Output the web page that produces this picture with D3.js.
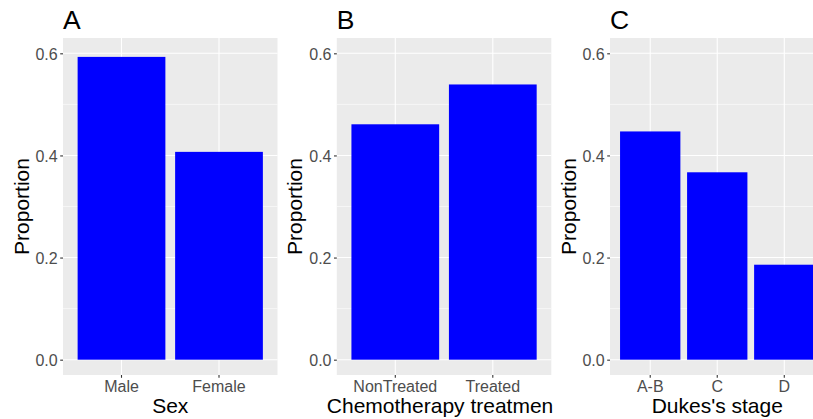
<!DOCTYPE html>
<html>
<head>
<meta charset="utf-8">
<script src="https://cdn.jsdelivr.net/npm/d3@7"></script>
<style>
  html, body { margin: 0; padding: 0; background: #ffffff; }
  svg { display: block; }
  text { font-family: "Liberation Sans", Arial, sans-serif; }
</style>
</head>
<body>
<svg id="chart" width="813" height="419"></svg>
<script>
// Proportions of patients by characteristic
const sexCategories = ["Male", "Female"];
const sexProportion = [0.593, 0.407];

const chemoCategories = ["NonTreated", "Treated"];
const chemoProportion = [0.461, 0.539];

const dukesCategories = ["A-B", "C", "D"];
const dukesProportion = [0.447, 0.367, 0.186];

const panelTags = ["A", "B", "C"];
const xTitles = ["Sex", "Chemotherapy treatmen", "Dukes's stage"];
const yTitle = "Proportion";
const yTicks = [0, 0.2, 0.4, 0.6];
const yMinorTicks = [0.1, 0.3, 0.5];

const panels = [
  { tag: panelTags[0], cats: sexCategories, vals: sexProportion, xTitle: xTitles[0] },
  { tag: panelTags[1], cats: chemoCategories, vals: chemoProportion, xTitle: xTitles[1] },
  { tag: panelTags[2], cats: dukesCategories, vals: dukesProportion, xTitle: xTitles[2] }
];

const svg = d3.select("#chart");
const panelOffsets = [0, 273.8, 547];
const plotLeft = 63, plotWidth = 214.5, plotTop = 38, plotBottom = 375;

const y = d3.scaleLinear().domain([-0.03, 0.63]).range([plotBottom, plotTop]);

panels.forEach((p, i) => {
  const g = svg.append("g").attr("transform", `translate(${panelOffsets[i]},0)`);

  const x = d3.scaleBand()
    .domain(p.cats)
    .range([plotLeft, plotLeft + plotWidth])
    .paddingInner(0.1)
    .paddingOuter(0.15);

  // panel background
  g.append("rect")
    .attr("x", plotLeft).attr("y", plotTop)
    .attr("width", plotWidth).attr("height", plotBottom - plotTop)
    .attr("fill", "#EBEBEB");

  // minor horizontal grid
  g.selectAll(".minor").data(yMinorTicks).enter().append("line")
    .attr("x1", plotLeft).attr("x2", plotLeft + plotWidth)
    .attr("y1", d => y(d)).attr("y2", d => y(d))
    .attr("stroke", "#ffffff").attr("stroke-width", 0.55);

  // major horizontal grid
  g.selectAll(".major").data(yTicks).enter().append("line")
    .attr("x1", plotLeft).attr("x2", plotLeft + plotWidth)
    .attr("y1", d => y(d)).attr("y2", d => y(d))
    .attr("stroke", "#ffffff").attr("stroke-width", 1.1);

  // vertical grid at category centres
  g.selectAll(".vgrid").data(p.cats).enter().append("line")
    .attr("x1", d => x(d) + x.bandwidth() / 2).attr("x2", d => x(d) + x.bandwidth() / 2)
    .attr("y1", plotTop).attr("y2", plotBottom)
    .attr("stroke", "#ffffff").attr("stroke-width", 1.1);

  // bars
  g.selectAll(".bar").data(p.cats.map((c, k) => ({ c, v: p.vals[k] }))).enter().append("rect")
    .attr("x", d => x(d.c))
    .attr("y", d => y(d.v))
    .attr("width", x.bandwidth())
    .attr("height", d => y(0) - y(d.v))
    .attr("fill", "#0000FF");

  // y axis
  const yAxis = g.append("g")
    .attr("transform", `translate(${plotLeft},0)`)
    .call(d3.axisLeft(y).tickValues(yTicks).tickFormat(d3.format(".1f")).tickSize(2.8).tickPadding(2.5));
  yAxis.select(".domain").remove();
  yAxis.selectAll(".tick line").attr("stroke", "#333333").attr("stroke-width", 1.1);
  yAxis.selectAll(".tick text").attr("fill", "#4D4D4D").style("font-size", "16px")
    .attr("dy", "0.36em");

  // x axis
  const xAxis = g.append("g")
    .attr("transform", `translate(0,${plotBottom})`)
    .call(d3.axisBottom(x).tickSize(2.8).tickPadding(0));
  xAxis.select(".domain").remove();
  xAxis.selectAll(".tick line").attr("stroke", "#333333").attr("stroke-width", 1.1);
  xAxis.selectAll(".tick text").attr("fill", "#4D4D4D").style("font-size", "16px")
    .attr("y", 16.5).attr("dy", 0);

  // axis titles
  g.append("text")
    .attr("x", plotLeft + plotWidth / 2 - (i === 1 ? 4 : 0))
    .attr("y", 413)
    .attr("text-anchor", "middle")
    .style("font-size", "21px").attr("fill", "#000000")
    .text(p.xTitle);

  g.append("text")
    .attr("transform", `translate(28.5,${(plotTop + plotBottom) / 2}) rotate(-90)`)
    .attr("text-anchor", "middle")
    .style("font-size", "21px").attr("fill", "#000000")
    .text(yTitle);

  // panel tag
  g.append("text")
    .attr("x", plotLeft).attr("y", 29)
    .style("font-size", "26.5px").attr("fill", "#000000")
    .text(p.tag);
});
</script>
</body>
</html>
